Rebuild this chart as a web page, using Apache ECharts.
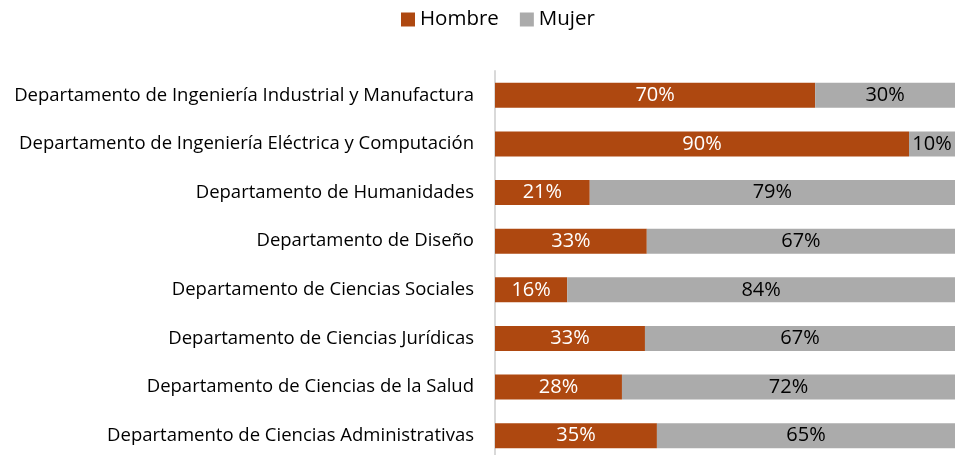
<!DOCTYPE html>
<html>
<head>
<meta charset="utf-8">
<script src="https://cdn.jsdelivr.net/npm/echarts@6/dist/echarts.min.js"></script>
<style>
	html, body { margin: 0; padding: 0; background: #fff; }
	#chart { width: 955px; height: 455px; }
</style>
</head>
<body>
<div id="chart"></div>
<script>
"use strict";

var departamentos = [
	'Departamento de Ingeniería Industrial y Manufactura',
	'Departamento de Ingeniería Eléctrica y Computación',
	'Departamento de Humanidades',
	'Departamento de Diseño',
	'Departamento de Ciencias Sociales',
	'Departamento de Ciencias Jurídicas',
	'Departamento de Ciencias de la Salud',
	'Departamento de Ciencias Administrativas'
];
var hombre = [69.6, 90.0, 20.6, 33.0, 15.7, 32.6, 27.6, 35.2];
var mujer = [30.4, 10.0, 79.4, 67.0, 84.3, 67.4, 72.4, 64.8];

var FONT = '"Open Sans", Lato, sans-serif';

function pctLabel(p) {
	return Math.round(p.value) + '%';
}

var chart = echarts.init(document.getElementById('chart'));

chart.setOption({
	animation: false,
	textStyle: { fontFamily: FONT },
	legend: {
		top: 4,
		left: 396,
		itemWidth: 14,
		itemHeight: 14,
		itemGap: 21,
		icon: 'rect',
		textStyle: { fontSize: 20.5, color: '#000', fontFamily: FONT },
		data: ['Hombre', 'Mujer']
	},
	grid: {
		left: 495,
		right: 0,
		top: 71,
		height: 389,
		outerBoundsMode: 'none'
	},
	xAxis: {
		type: 'value',
		min: 0,
		max: 100,
		show: false
	},
	yAxis: {
		type: 'category',
		inverse: true,
		data: departamentos,
		axisLine: { lineStyle: { color: '#d9d9d9', width: 2 } },
		axisTick: { show: false },
		axisLabel: {
			color: '#000',
			fontSize: 18.5,
			fontFamily: FONT,
			margin: 21
		}
	},
	series: [{
		name: 'Hombre',
		type: 'bar',
		stack: 'total',
		barWidth: 25,
		itemStyle: { color: '#AE4810' },
		label: {
			show: true,
			position: 'inside',
			color: '#fff',
			fontSize: 20,
			fontFamily: FONT,
			formatter: pctLabel
		},
		data: hombre
	}, {
		name: 'Mujer',
		type: 'bar',
		stack: 'total',
		barWidth: 25,
		itemStyle: { color: '#ABABAB' },
		label: {
			show: true,
			position: 'inside',
			color: '#000',
			fontSize: 20,
			fontFamily: FONT,
			formatter: pctLabel
		},
		data: mujer
	}]
});
</script>
</body>
</html>
